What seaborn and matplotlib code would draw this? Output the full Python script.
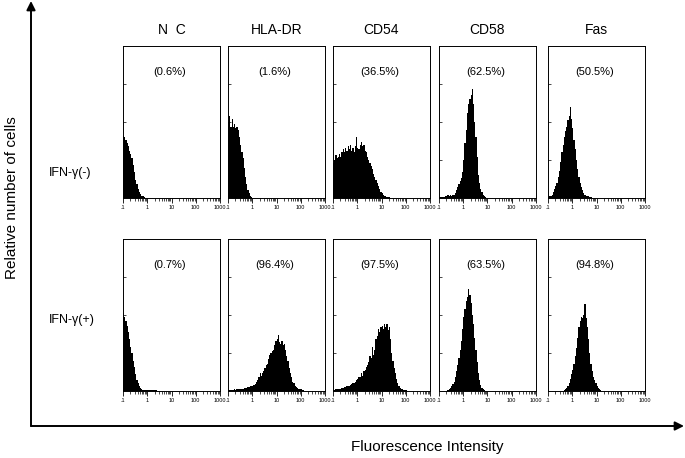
import numpy as np
import matplotlib
matplotlib.use('Agg')
import matplotlib.pyplot as plt
from matplotlib.patches import FancyArrowPatch
import seaborn as sns

# ── Labels ───────────────────────────────────────────────────────────────────
markers = ['N  C', 'HLA-DR', 'CD54', 'CD58', 'Fas']
conditions = ['IFN-γ(-)', 'IFN-γ(+)']
pct_minus = ['(0.6%)', '(1.6%)', '(36.5%)', '(62.5%)', '(50.5%)']
pct_plus = ['(0.7%)', '(96.4%)', '(97.5%)', '(63.5%)', '(94.8%)']
tick_vals = [0.1, 1, 10, 100, 1000]
tick_labels = ['.1', '1', '10', '100', '1000']

# ── Histogram heights (fraction of panel height) ─────────────────────────────
# channels are 0.05 decade wide starting at 0.1; (first channel, heights)
nc_minus = (0, [0.41, 0.40, 0.38, 0.36, 0.34, 0.31, 0.29, 0.26, 0.22, 0.17,
                0.12, 0.09, 0.06, 0.04, 0.025, 0.015, 0.01, 0.005])
hla_minus = (0, [0.50, 0.54, 0.47, 0.52, 0.47, 0.49, 0.46, 0.47, 0.45, 0.40,
                 0.35, 0.30, 0.26, 0.20, 0.14, 0.09, 0.05, 0.03, 0.015, 0.005])
cd54_minus = (0, [0.23, 0.25, 0.28, 0.26, 0.27, 0.29, 0.27, 0.30, 0.32, 0.30,
                  0.33, 0.31, 0.34, 0.32, 0.35, 0.31, 0.33, 0.30, 0.34, 0.40,
                  0.33, 0.32, 0.35, 0.37, 0.34, 0.35, 0.31, 0.30, 0.27, 0.25,
                  0.23, 0.21, 0.19, 0.16, 0.14, 0.12, 0.10, 0.08, 0.06, 0.04,
                  0.03, 0.02, 0.01, 0.01, 0.005, 0.005, 0.005])
cd58_minus = (0, [0.005, 0.005, 0.005, 0.005, 0.005, 0.01, 0.015, 0.02, 0.015, 0.02,
                  0.015, 0.02, 0.02, 0.03, 0.05, 0.07, 0.09, 0.11, 0.13, 0.17,
                  0.25, 0.36, 0.45, 0.56, 0.62, 0.65, 0.68, 0.72, 0.62, 0.50,
                  0.40, 0.27, 0.15, 0.10, 0.06, 0.04, 0.02, 0.01, 0.005])
fas_minus = (0, [0.005, 0.01, 0.015, 0.02, 0.04, 0.06, 0.08, 0.10, 0.14, 0.18,
                 0.24, 0.30, 0.35, 0.40, 0.44, 0.47, 0.51, 0.54, 0.60, 0.52,
                 0.46, 0.38, 0.32, 0.25, 0.19, 0.14, 0.10, 0.07, 0.05, 0.03,
                 0.02, 0.015, 0.01, 0.01, 0.005, 0.005])

nc_plus = (0, [0.51, 0.49, 0.46, 0.43, 0.39, 0.34, 0.29, 0.25, 0.20, 0.16,
               0.11, 0.07, 0.05, 0.03, 0.02, 0.01, 0.005, 0.005, 0.005, 0.005,
               0.005, 0.005, 0.005, 0.005, 0.005, 0.005, 0.005, 0.005])
hla_plus = (0, [0.005, 0.007, 0.008, 0.007, 0.009, 0.01, 0.009, 0.011, 0.012, 0.012,
                0.013, 0.014, 0.016, 0.018, 0.02, 0.022, 0.025, 0.027, 0.03, 0.032,
                0.035, 0.04, 0.045, 0.06, 0.07, 0.09, 0.12, 0.10, 0.12, 0.13,
                0.15, 0.17, 0.18, 0.21, 0.24, 0.25, 0.26, 0.27, 0.30, 0.33,
                0.34, 0.37, 0.32, 0.31, 0.33, 0.30, 0.31, 0.27, 0.23, 0.20,
                0.15, 0.12, 0.09, 0.06, 0.05, 0.035, 0.025, 0.02, 0.015, 0.01,
                0.01, 0.005, 0.005])
cd54_plus = (0, [0.005, 0.008, 0.01, 0.01, 0.012, 0.014, 0.016, 0.02, 0.022, 0.025,
                 0.028, 0.03, 0.033, 0.036, 0.04, 0.045, 0.05, 0.055, 0.06, 0.07,
                 0.08, 0.09, 0.09, 0.12, 0.10, 0.13, 0.14, 0.16, 0.17, 0.19,
                 0.23, 0.22, 0.29, 0.24, 0.27, 0.34, 0.36, 0.41, 0.39, 0.42,
                 0.43, 0.41, 0.44, 0.42, 0.44, 0.40, 0.42, 0.34, 0.25, 0.20,
                 0.15, 0.12, 0.08, 0.05, 0.03, 0.02, 0.015, 0.01, 0.008, 0.005,
                 0.005])
cd58_plus = (0, [0.003, 0.003, 0.003, 0.003, 0.003, 0.003, 0.003, 0.006, 0.01, 0.02,
                 0.03, 0.045, 0.06, 0.09, 0.13, 0.17, 0.22, 0.27, 0.33, 0.41,
                 0.49, 0.54, 0.59, 0.62, 0.67, 0.63, 0.58, 0.50, 0.44, 0.35,
                 0.27, 0.19, 0.12, 0.07, 0.04, 0.02, 0.01, 0.005, 0.003])
fas_plus = (12, [0.003, 0.005, 0.01, 0.02, 0.03, 0.05, 0.08, 0.11, 0.14, 0.18,
                 0.23, 0.28, 0.35, 0.42, 0.46, 0.49, 0.48, 0.50, 0.57, 0.48,
                 0.42, 0.34, 0.25, 0.18, 0.13, 0.09, 0.07, 0.05, 0.03, 0.02,
                 0.01, 0.005, 0.003])

rows = [[nc_minus, hla_minus, cd54_minus, cd58_minus, fas_minus],
        [nc_plus, hla_plus, cd54_plus, cd58_plus, fas_plus]]
pcts = [pct_minus, pct_plus]

n_chan = 80
centers = 10 ** (-1 + 0.05 * (np.arange(n_chan) + 0.5))

# ── Figure ───────────────────────────────────────────────────────────────────
sns.set_theme(style='white')
plt.rcParams['font.family'] = ['Liberation Sans', 'DejaVu Sans']
plt.rcParams['text.color'] = 'black'
plt.rcParams['xtick.color'] = 'black'
plt.rcParams['ytick.color'] = 'black'

W, H = 685, 458
fig = plt.figure(figsize=(W / 100, H / 100), dpi=100)

col_left = [123, 228, 333, 439, 548]
panel_w = 97
row_bottom = [198, 391]
panel_h = 152

for r in range(2):
    for c in range(5):
        ax = fig.add_axes([col_left[c] / W, 1 - row_bottom[r] / H,
                           panel_w / W, panel_h / H])
        start, vals = rows[r][c]
        heights = np.zeros(n_chan)
        heights[start:start + len(vals)] = vals
        sns.histplot(x=centers, weights=heights, bins=n_chan, binrange=(-1, 3),
                     log_scale=True, element='step', fill=True,
                     color='black', alpha=1, linewidth=0, ax=ax)
        ax.set_xlim(0.1, 1000)
        ax.set_ylim(0, 1)
        ax.set_xlabel('')
        ax.set_ylabel('')
        ax.set_xticks(tick_vals)
        ax.set_xticklabels(tick_labels)
        ax.tick_params(axis='x', which='major', direction='out', length=3.5,
                       width=0.6, labelsize=4, pad=1.5, bottom=True)
        ax.tick_params(axis='x', which='minor', direction='out', length=2,
                       width=0.5, bottom=True)
        ax.set_yticks([0.25, 0.5, 0.75])
        ax.set_yticklabels([])
        ax.tick_params(axis='y', direction='in', length=2, width=0.5, left=True)
        for s in ax.spines.values():
            s.set_color('black')
            s.set_linewidth(0.7)
        ax.text(0.48, 0.83, pcts[r][c], transform=ax.transAxes,
                ha='center', va='center', fontsize=8)
        if r == 0:
            ax.text(0.5, 1.105, markers[c], transform=ax.transAxes,
                    ha='center', va='center', fontsize=10)

# row labels
fig.text(49 / W, 1 - 173 / H, conditions[0], ha='left', va='center', fontsize=9)
fig.text(49 / W, 1 - 320 / H, conditions[1], ha='left', va='center', fontsize=9)

# big axis arrows
ox, oy = 31 / W, 1 - 426 / H
fig.add_artist(FancyArrowPatch((ox, oy), (ox, 1 - 1 / H), transform=fig.transFigure,
                               arrowstyle='-|>', mutation_scale=13, lw=1.4,
                               color='black', shrinkA=0, shrinkB=0))
fig.add_artist(FancyArrowPatch((ox, oy), (684 / W, oy), transform=fig.transFigure,
                               arrowstyle='-|>', mutation_scale=13, lw=1.4,
                               color='black', shrinkA=0, shrinkB=0))

fig.text(12 / W, 1 - 198 / H, 'Relative number of cells', rotation=90,
         ha='center', va='center', fontsize=11)
fig.text(427 / W, 1 - 447 / H, 'Fluorescence Intensity',
         ha='center', va='center', fontsize=11)

fig.savefig('out.png', dpi=100, facecolor='white')
